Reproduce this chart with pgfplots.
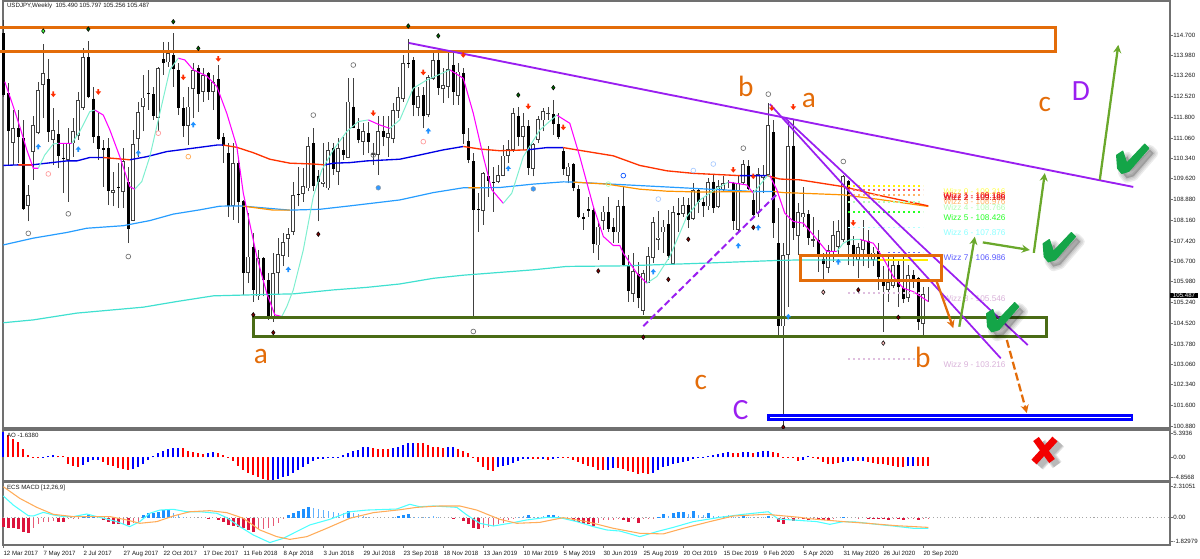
\documentclass[border=0pt]{standalone}
\PassOptionsToPackage{rgb}{xcolor}
\usepackage{fontspec}
\setmainfont{Liberation Sans}
\newfontfamily\letterfont{Carlito}
\usepackage{pgfplots}
\usepackage{pgfplotstable}
\pgfplotsset{compat=1.18}
\usetikzlibrary{arrows.meta}

% weekly candles: week index, open, high, low, close
\pgfplotstableread{
i o h l c
0 114.76 115.23 112.52 112.58
1 112.64 112.99 110.11 111.29
3 111.40 112.05 110.17 111.09
4 111.07 111.70 108.52 108.55
9 113.15 113.84 110.93 111.26
11 111.20 111.70 109.99 110.43
12 110.37 110.87 109.11 110.32
17 113.91 114.50 112.46 112.52
18 112.45 112.88 110.87 111.11
19 111.13 111.93 110.29 110.67
20 110.70 110.99 109.34 110.65
21 110.72 111.05 108.69 109.17
23 109.34 110.17 108.58 109.31
25 109.50 110.05 107.34 107.83
29 112.65 113.47 112.05 112.63
30 112.61 112.88 111.70 111.85
32 113.85 114.47 113.29 113.70
34 114.00 114.76 112.88 113.50
35 113.47 113.70 111.88 112.13
36 112.11 112.52 111.09 111.49
39 113.52 113.64 111.99 112.61
41 113.35 113.41 112.41 112.68
43 113.15 113.64 110.99 111.03
44 111.09 111.23 110.17 110.79
45 110.52 110.87 108.28 108.64
47 110.17 110.29 108.05 108.81
48 108.84 108.87 105.51 106.28
50 107.20 107.69 105.28 105.69
52 106.81 106.87 105.46 106.04
53 106.04 106.28 104.63 104.65
59 109.07 110.05 108.64 109.04
62 110.87 111.40 109.17 109.38
63 109.73 109.93 108.11 109.50
66 110.70 110.87 109.76 109.97
68 110.64 111.11 110.29 110.46
70 112.17 113.17 111.40 111.43
71 111.38 111.76 110.87 110.99
73 111.23 111.64 110.52 110.91
76 111.32 111.82 110.76 111.11
81 113.72 114.55 113.52 113.70
82 113.80 113.94 111.82 112.21
84 112.58 112.88 111.40 111.85
87 113.82 114.17 112.58 112.82
90 113.64 114.11 112.23 112.68
92 113.35 113.52 110.85 111.19
93 110.96 111.40 110.17 110.29
94 110.23 110.52 104.69 108.52
95 108.54 109.11 107.75 108.51
97 109.70 110.76 108.99 109.54
98 109.52 110.05 108.46 109.48
103 111.84 112.17 110.76 111.11
105 111.49 111.70 109.76 110.01
110 111.90 112.41 111.17 111.56
111 111.55 111.93 111.02 111.09
112 110.60 110.70 109.76 109.97
114 110.13 110.17 109.17 109.28
115 109.26 109.40 108.22 108.26
116 108.28 108.40 107.81 108.21
117 108.54 108.99 108.28 108.49
118 108.52 108.64 106.99 107.32
121 108.44 108.99 107.75 107.85
122 107.91 108.22 107.34 107.73
124 108.66 109.34 106.52 106.57
125 106.55 106.93 105.28 105.66
127 106.24 106.69 105.04 105.42
133 108.02 108.52 106.75 106.89
135 108.40 108.93 107.75 108.35
137 108.69 108.93 107.87 108.17
139 109.23 109.28 108.40 108.78
140 108.79 108.99 108.28 108.64
142 109.52 109.75 108.40 108.58
145 109.50 109.58 109.28 109.46
146 109.46 109.52 107.81 108.11
149 110.07 110.29 109.23 109.26
150 108.87 109.23 108.28 108.34
154 111.26 111.70 107.52 108.05
155 107.34 108.58 104.04 104.40
158 110.78 111.70 107.46 107.87
161 108.37 108.52 107.28 107.52
163 107.46 107.81 106.34 106.93
164 106.79 106.99 105.98 106.61
169 109.54 109.58 106.57 107.28
170 107.28 107.58 106.52 106.95
173 107.43 107.81 106.46 106.96
175 107.05 107.34 105.69 106.16
176 105.99 106.52 104.20 105.83
179 106.57 106.75 105.10 105.78
180 105.75 106.87 105.22 105.37
182 106.22 106.40 105.75 106.08
183 106.10 106.16 104.28 104.57
}\bear
\pgfplotstableread{
i o h l c
2 110.90 112.05 110.11 111.40
5 108.67 109.40 108.11 109.05
6 110.58 111.82 109.58 111.52
7 111.25 113.05 111.19 112.76
8 112.94 114.37 111.76 113.35
10 110.99 112.11 110.11 111.35
13 110.29 111.40 108.81 110.87
14 110.87 111.76 110.40 111.31
15 111.13 112.70 110.99 112.41
16 112.11 114.23 112.05 113.91
22 109.11 109.87 108.64 109.21
24 109.14 110.70 108.58 110.25
26 108.14 111.35 108.11 110.85
27 111.03 112.35 110.40 111.99
28 112.15 113.29 111.29 112.49
31 111.76 113.58 111.29 113.52
33 113.73 114.47 113.58 114.05
37 111.50 112.88 110.82 112.17
38 112.78 113.70 111.76 113.47
40 112.70 113.52 112.35 113.29
42 112.68 113.29 112.05 113.05
46 108.66 110.87 108.17 110.17
49 106.28 108.40 105.93 106.87
51 105.46 107.10 105.34 106.81
54 104.65 106.99 104.57 106.28
55 106.28 107.52 105.51 106.96
56 106.90 107.69 106.52 107.38
57 107.49 107.87 106.87 107.66
58 107.75 109.52 107.63 109.05
60 109.08 109.99 108.81 109.37
61 109.28 111.11 109.17 110.76
64 109.43 110.87 109.34 109.52
65 109.28 110.93 109.23 110.64
67 109.85 111.05 109.40 110.70
69 110.37 113.17 110.34 112.35
72 110.93 111.58 110.46 111.29
74 110.46 110.87 110.11 110.52
75 110.46 111.82 109.76 111.29
77 111.05 111.82 110.40 111.23
78 111.03 112.29 110.87 112.05
79 112.02 112.88 111.76 112.52
80 112.43 114.00 112.35 113.70
83 112.13 112.88 111.82 112.55
85 111.88 113.29 111.79 113.21
86 113.15 114.17 113.11 113.82
88 112.78 113.52 112.31 112.94
89 112.88 114.06 112.46 113.50
91 112.56 113.70 112.23 113.41
96 108.49 109.87 107.99 109.81
99 109.50 110.11 109.46 109.75
100 109.73 110.81 109.70 110.44
101 110.43 110.99 110.17 110.66
102 110.64 112.11 110.58 111.93
104 111.11 111.93 110.64 111.49
106 109.97 110.87 109.70 110.84
107 110.99 111.82 110.87 111.72
108 111.68 112.11 111.29 112.02
109 111.92 112.17 111.70 111.96
113 109.73 110.17 109.46 110.05
119 107.26 108.11 106.75 107.93
120 108.14 108.64 107.81 108.46
123 107.72 108.87 107.34 108.66
126 105.55 106.99 105.28 106.36
128 104.96 106.40 104.81 106.28
129 105.95 107.22 105.93 106.90
130 106.81 108.28 106.63 108.08
131 107.46 108.48 107.10 107.54
132 107.72 108.17 106.99 107.93
134 106.61 108.64 106.57 108.44
136 108.38 108.99 108.28 108.69
138 108.20 109.46 108.17 109.23
141 108.64 109.64 108.52 109.50
143 108.61 109.58 108.58 109.37
144 109.23 109.70 109.17 109.46
147 107.81 109.70 107.75 109.46
148 109.46 110.29 109.40 110.14
151 108.40 109.99 108.28 109.78
152 109.64 110.11 109.11 109.75
153 109.75 112.29 109.70 111.52
156 104.40 107.34 100.86 106.93
157 106.93 111.70 105.10 110.76
159 107.61 108.75 106.93 108.44
160 108.25 109.34 107.93 108.40
162 107.43 108.28 107.22 107.48
165 106.48 107.28 106.28 107.10
166 107.05 108.11 106.69 107.63
167 107.22 108.17 106.87 107.78
168 107.46 109.75 107.40 109.70
171 106.75 107.34 106.10 107.20
172 107.10 108.17 106.52 107.46
174 106.75 107.22 106.52 107.01
177 105.69 106.93 105.28 105.96
178 105.83 106.93 105.75 106.57
181 105.40 106.57 105.28 106.22
184 104.48 105.81 104.00 105.55
185 105.49 105.80 105.26 105.49
}\bull

\definecolor{annorange}{HTML}{E36C09}
\definecolor{annpurple}{HTML}{9A1FF0}
\definecolor{anngreen}{HTML}{4A6B16}
\definecolor{arrgreen}{HTML}{6AA82B}
\definecolor{chkgreen}{HTML}{14A548}
\definecolor{candle}{HTML}{404040}
\definecolor{frame}{HTML}{707070}
\definecolor{turq}{HTML}{40E0D0}
\definecolor{aquam}{HTML}{7FEFD0}
\definecolor{crims}{HTML}{DC143C}
\definecolor{dodger}{HTML}{1E90FF}

\pgfdeclareplotmark{dn}{\pgfpathmoveto{\pgfpoint{-.7pt}{2.2pt}}\pgfpathlineto{\pgfpoint{.7pt}{2.2pt}}\pgfpathlineto{\pgfpoint{.7pt}{.5pt}}\pgfpathlineto{\pgfpoint{2.1pt}{.5pt}}\pgfpathlineto{\pgfpoint{0pt}{-2pt}}\pgfpathlineto{\pgfpoint{-2.1pt}{.5pt}}\pgfpathlineto{\pgfpoint{-.7pt}{.5pt}}\pgfpathclose\pgfusepathqfill}
\pgfdeclareplotmark{up}{\pgfpathmoveto{\pgfpoint{-.7pt}{-2.2pt}}\pgfpathlineto{\pgfpoint{.7pt}{-2.2pt}}\pgfpathlineto{\pgfpoint{.7pt}{-.5pt}}\pgfpathlineto{\pgfpoint{2.1pt}{-.5pt}}\pgfpathlineto{\pgfpoint{0pt}{2pt}}\pgfpathlineto{\pgfpoint{-2.1pt}{-.5pt}}\pgfpathlineto{\pgfpoint{-.7pt}{-.5pt}}\pgfpathclose\pgfusepathqfill}

\pgfplotsset{
  panel/.style={
    scale only axis, width=875.25pt, xmin=-0.06, xmax=233.34,
    anchor=south west, clip=false,
    axis line style={draw=frame,line width=.8pt},
    xtick=\empty, ytick pos=right, yticklabel pos=right,
    tick style={draw=frame,line width=.4pt}, major tick length=2pt,
    tick align=outside,
    tick label style={font=\fontsize{4.6}{5.5}\selectfont,text=black!90},
    y tick label style={anchor=west,inner xsep=.4pt},
  },
  wick/.style={draw=candle,line width=.55pt,quiver={u=0,v=\thisrow{h}-\thisrow{l}}},
  body/.style={draw=black,line width=2.7pt,quiver={u=0,v=\thisrow{c}-\thisrow{o}}},
  wizline/.style={line width=1.1pt,dash pattern=on 1.1pt off 2.65pt},
}
\tikzset{
  lab/.style={font=\fontsize{4.6}{5.5}\selectfont,text=black!90,anchor=west,inner sep=0pt},
  wiz/.style={font=\fontsize{6.2}{7}\selectfont,anchor=west,inner sep=0pt},
  big/.style={font=\letterfont\fontsize{22}{24}\selectfont,inner sep=0pt},
}

\newcommand{\chk}[2]{%
  \begin{scope}[shift={(#1,#2)}]
    \foreach \w in {9,6,3}{
      \path[fill=black,draw=black,opacity=.08,line join=round,line width=\w*.75pt,shift={(5,5)}]
        (0,12)--(6,8)--(10,20)--(28,1)--(32,5)--(12,28)--(5,30)--(1,25)--cycle;}
    \path[fill=chkgreen,draw=chkgreen,line join=round,line width=1pt]
      (0,12)--(6,8)--(10,20)--(28,1)--(32,5)--(12,28)--(5,30)--(1,25)--cycle;
  \end{scope}}

\begin{document}
\begin{tikzpicture}
\useasboundingbox (0,0) rectangle (900pt,419.25pt);

% price panel
\begin{axis}[panel, at={(2.25pt,98.25pt)}, height=320.25pt, ymin=100.809, ymax=115.903,
  ytick={114.7,113.98,113.26,112.52,111.8,111.06,110.34,109.62,108.88,108.16,107.42,106.7,105.98,105.24,104.52,103.78,103.06,102.34,101.6,100.88},
  yticklabels={114.700,113.980,113.260,112.520,111.800,111.060,110.340,109.620,108.880,108.160,107.420,106.700,105.980,105.240,104.520,103.780,103.060,102.340,101.600,100.880}]

\addplot[wick] table[x=i,y=l] {\bear};
\addplot[wick] table[x=i,y=l] {\bull};
\addplot[body] table[x=i,y=o] {\bear};
\addplot[body,draw=candle,line width=3pt] table[x=i,y=o] {\bull};
\addplot[draw=white,line width=1.5pt,quiver={u=0,v={max(\thisrow{c}-\thisrow{o}-0.06,0)}}] table[x=i,y expr=\thisrow{o}+0.03] {\bull};

% moving averages, coloured by direction
\pgfplotsset{unbounded coords=jump}
\addplot[draw=cyan!55!blue!85!white,line width=.9pt] coordinates {(0,107.28)(6,107.52)(12.7,107.72)(16.7,107.87)(24,107.96)(29.3,108.14)(34,108.37)(39.3,108.52)(43.3,108.65)(47.3,108.66)(48.7,108.64)(57.3,108.51)(63.3,108.54)(69.3,108.66)(79.3,108.87)(86,109.13)(92,109.30)(95.3,109.30)(99.3,109.31)(106,109.43)(112,109.51)(114,109.50)(150,109.17)(154,109.17)};
\addplot[draw=orange!85!yellow,line width=.9pt] coordinates {(47.3,nan)(48,108.65)(54,108.51)(57.3,108.51)(57.4,nan)(93,109.30)(95.3,109.30)(95.4,nan)(114,109.50)(120.7,109.43)(127.3,109.25)(132.7,109.18)(139.3,109.15)(146,109.16)(150,109.16)(150.1,nan)(154,109.17)(156,109.13)(159.3,109.11)(168,109.05)(174.7,108.90)(185,108.64)};
\addplot[draw=blue!90!black,line width=1pt] coordinates {(0,110.09)(3,110.11)(5.7,110.11)(12.7,110.25)(14.7,110.25)(17.3,110.37)(20,110.37)(20.1,nan)(25.3,110.29)(28.7,110.40)(32.7,110.58)(39.3,110.73)(42.7,110.81)(44,110.81)(44.1,nan)(64.3,110.11)(66,110.17)(69.3,110.19)(72.7,110.25)(79.3,110.31)(83.3,110.46)(88,110.64)(92,110.76)(92.1,nan)(104.7,110.64)(108.7,110.72)(112,110.72)(112.1,nan)(147.3,109.73)(152.7,109.73)};
\addplot[draw=red!60!orange,line width=1pt] coordinates {(3,110.11)(5.7,110.11)(5.8,nan)(20,110.37)(25.3,110.29)(25.4,nan)(44,110.81)(46.7,110.73)(50,110.54)(53.3,110.31)(57.3,110.17)(62,110.14)(64.3,110.11)(64.4,nan)(92,110.76)(95.3,110.67)(99.3,110.61)(104.7,110.64)(104.8,nan)(112,110.72)(114.7,110.64)(122,110.43)(127.3,110.09)(132.7,109.90)(138,109.81)(147.3,109.73)(147.4,nan)(152.7,109.73)(155.3,109.61)(159.3,109.58)(168,109.34)(174.7,109.05)(185,108.66)};
\addplot[draw=turq,line width=.9pt] coordinates {(0,104.53)(6,104.63)(14.7,104.87)(28,105.08)(34.7,105.28)(42,105.48)(52.7,105.53)(58,105.55)(66,105.69)(72.7,105.78)(79.3,105.90)(86,106.10)(92,106.21)(106,106.40)(112.7,106.52)(124,106.54)(139.3,106.63)(154.7,106.73)(159.3,106.75)(175,106.75)};
\addplot[draw=yellow!85!orange,line width=.9pt] coordinates {(175,106.75)(185,106.75)};

% swing line: magenta falling, aquamarine rising
\addplot[draw=magenta,line width=.8pt] coordinates {(0.3,113.05)(2,112.17)(3.3,111.46)(4.7,110.64)(6,109.99)(7,109.99)(7.1,nan)(11,110.87)(13.7,110.87)(13.8,nan)(18.3,112.05)(20,111.87)(21.3,111.35)(23.3,110.40)(25.3,109.34)(26.3,109.25)(26.4,nan)(35,113.88)(36.3,113.82)(38,113.47)(40.7,113.25)(42.7,112.88)(44.7,111.93)(46.7,110.76)(48,109.11)(50.7,106.87)(52.7,105.57)(54.3,104.81)(55.7,104.75)(55.8,nan)(73,111.70)(75.3,111.52)(77.3,111.40)(77.4,nan)(89.3,113.47)(92,113.17)(94,111.93)(96,110.40)(97.7,109.23)(100,108.75)(100.1,nan)(110.7,111.87)(113.3,111.58)(115.3,110.40)(118,108.64)(120,107.58)(122,107.26)(123.3,107.26)(124,106.99)(126.7,106.28)(128.7,105.93)(128.8,nan)(145,109.50)(148.7,109.40)(150,109.11)(150.1,nan)(153.3,109.73)(154.7,109.23)(156.3,108.40)(158,108.11)(160,108.05)(162,107.63)(164.7,107.05)(166.7,107.05)(166.8,nan)(171.3,107.48)(174,107.34)(176,106.81)(178,106.16)(180,105.75)(182,105.63)(185,105.28)};
\addplot[draw=aquam,line width=.75pt] coordinates {(7,109.99)(8.3,110.46)(10,110.85)(11,110.87)(11.1,nan)(13.7,110.87)(15.3,111.29)(17.3,111.99)(18.3,112.05)(18.4,nan)(26.3,109.25)(27.7,109.52)(29.3,110.40)(31.3,111.93)(33.3,113.47)(35,113.88)(35.1,nan)(55.7,104.75)(56.7,105.10)(58,105.69)(60,107.10)(62,108.99)(63.7,109.93)(66,110.64)(68.7,111.29)(71,111.64)(73,111.70)(73.1,nan)(77.3,111.40)(79.3,111.70)(82,112.82)(84.7,113.11)(89.3,113.47)(89.4,nan)(100,108.75)(101.7,109.11)(104,110.40)(107.3,111.34)(110.7,111.87)(110.8,nan)(128.7,105.93)(130.7,106.16)(133.3,106.87)(136.7,108.28)(139.3,108.87)(142.3,109.23)(145,109.50)(145.1,nan)(150,109.11)(152.7,109.70)(153.3,109.73)(153.4,nan)(166.7,107.05)(168,107.34)(169.3,107.46)(171.3,107.48)};

% signal markers
\addplot[only marks,mark=o,mark size=1.8pt,mark options={draw=black!55,line width=.5pt}] coordinates {(5,107.69)(13,108.38)(25,106.87)(62,111.87)(70,113.64)(94,104.22)(153,112.61)(148,110.70)(168,110.23)(74,110.46)};
\addplot[only marks,mark=o,mark size=1.8pt,mark options={draw=pink!80!red,line width=.5pt}] coordinates {(9,109.79)(31,111.23)(84,110.93)};
\addplot[only marks,mark=o,mark size=1.8pt,mark options={draw=orange!70,line width=.5pt}] coordinates {(37,110.40)};
\addplot[only marks,mark=o,mark size=1.8pt,mark options={draw=blue!70!cyan,line width=.5pt}] coordinates {(124,109.73)};
\addplot[only marks,mark=o,mark size=1.8pt,mark options={draw=cyan!40!blue!35,line width=.5pt}] coordinates {(131,108.90)(138,109.91)(142,110.14)};
\addplot[only marks,mark=o,mark size=1.8pt,mark options={draw=green!30,line width=.5pt}] coordinates {(121,109.43)};
\addplot[only marks,mark=*,mark size=1.8pt,mark options={fill=blue!50!cyan!80,draw=black!40,line width=.3pt}] coordinates {(75,109.30)(106,109.26)};
\addplot[only marks,mark=dn,mark options={fill=red!65!orange,draw=none}] coordinates {(10,112.60)(19,112.68)(36,113.20)(43,113.85)(74,111.93)(84,113.37)(92,113.99)(105,112.17)(112,111.43)(146,109.93)(150,109.70)(153.7,112.11)(158,112.15)(170,108.05)};
\addplot[only marks,mark=up,mark options={fill=dodger,draw=none}] coordinates {(7,110.76)(15,110.67)(27,110.54)(38,111.54)(57,106.42)(85,111.32)(101,109.99)(130,106.34)(147,107.26)(151,107.90)(157,104.75)(167,106.69)};
\addplot[only marks,mark=diamond*,mark size=1.7pt,mark options={fill=green!40!black,draw=none}] coordinates {(17,114.91)(34,115.17)(39,114.23)(81,115.02)(87,114.67)(103,112.58)(110,112.84)};
\addplot[only marks,mark=diamond*,mark size=1.7pt,mark options={fill=green!75!white,draw=none}] coordinates {(8,114.84)};
\addplot[only marks,mark=diamond*,mark size=1.7pt,mark options={fill=red!50!black,draw=none}] coordinates {(50,104.81)(54,104.18)(63,107.66)(119,106.36)(128,104.02)(133,106.06)(137,107.48)(150,107.90)(156,100.84)(171,105.69)(179,104.72)};
\addplot[only marks,mark=diamond*,mark size=1.7pt,mark options={fill=pink,draw=none}] coordinates {(164,105.61)(176,103.81)};

% wizz levels
\addplot[draw=yellow!90!orange,wizline] coordinates {(169,109.36)(184,109.36)};
\addplot[draw=red!60!white,wizline] coordinates {(169,109.22)(184,109.22)};
\addplot[draw=orange!60,wizline] coordinates {(169,109.05)(184,109.05)};
\addplot[draw=green!30,wizline] coordinates {(169,108.79)(184,108.79)};
\addplot[draw=green!85!white,wizline] coordinates {(169,108.44)(184,108.44)};
\addplot[draw=cyan!30,wizline] coordinates {(169,107.90)(184,107.90)};
\addplot[draw=blue!60!white,wizline] coordinates {(177,107.02)(184,107.02)};
\addplot[draw=violet!25,wizline] coordinates {(169,105.58)(184,105.58)};
\addplot[draw=violet!25,wizline] coordinates {(169,103.24)(184,103.24)};
\node[wiz,text=yellow!70!white] at (axis cs:188,109.17) {Wizz 0 - 109.316};
\node[wiz,text=orange!60] at (axis cs:188,108.81) {Wizz 3 - 108.976};
\node[wiz,text=red] at (axis cs:188,109.01) {Wizz 1 - 109.186};
\node[wiz,text=red!85!black] at (axis cs:188,108.97) {Wizz 2 - 109.186};
\node[wiz,text=green!30] at (axis cs:188,108.61) {Wizz 4 - 108.766};
\node[wiz,text=green!85!white] at (axis cs:188,108.26) {Wizz 5 - 108.426};
\node[wiz,text=cyan!45] at (axis cs:188,107.72) {Wizz 6 - 107.876};
\node[wiz,text=blue!65!white] at (axis cs:188,106.82) {Wizz 7 - 106.986};
\node[wiz,text=violet!30] at (axis cs:188,105.40) {Wizz 8 - 105.546};
\node[wiz,text=violet!30] at (axis cs:188,103.06) {Wizz 9 - 103.216};

% drawn zones and trend lines
\addplot[draw=annorange,line width=2.25pt] coordinates {(-0.66,114.98)(210.5,114.98)(210.5,114.125)(-0.66,114.125)};
\addplot[draw=anngreen,line width=2.25pt] coordinates {(50.1,104.73)(208.7,104.73)(208.7,104.04)(50.1,104.04)} --cycle;
\addplot[draw=annpurple,line width=1.4pt] coordinates {(81.1,114.42)(226,109.33)};
\addplot[draw=annpurple,line width=1.3pt] coordinates {(153.3,112.26)(199.5,103.27)};
\addplot[draw=annpurple,line width=1.3pt] coordinates {(156.3,111.77)(204.9,103.74)};
\addplot[draw=annpurple,line width=1.5pt,dash pattern=on 5pt off 2.5pt] coordinates {(128,104.41)(155,109.12)};
\addplot[draw=annorange,line width=2.25pt] coordinates {(159.5,106.92)(187.7,106.92)(187.7,106.04)(159.5,106.04)} --cycle;
\addplot[draw=blue,fill=white,line width=1.95pt] coordinates {(153,101.25)(225.7,101.25)(225.7,101.11)(153,101.11)} --cycle;
\addplot[draw=annorange,line width=1.7pt,-{Stealth[length=6pt,width=6pt]}] coordinates {(186.7,105.98)(190,104.34)};
\addplot[draw=annorange,line width=1.7pt,dash pattern=on 6pt off 2.5pt,-{Stealth[length=6pt,width=6pt]}] coordinates {(200.7,103.92)(204.7,101.34)};
\addplot[draw=arrgreen,line width=1.7pt,-{Stealth[length=6pt,width=6pt]}] coordinates {(191.2,104.39)(194.3,107.57)};
\addplot[draw=arrgreen,line width=1.7pt,-{Stealth[length=6pt,width=6pt]}] coordinates {(195.9,107.37)(205.3,107.10)};
\addplot[draw=arrgreen,line width=1.7pt,-{Stealth[length=6pt,width=6pt]}] coordinates {(206.1,107.00)(208.3,109.82)};
\addplot[draw=arrgreen,line width=1.7pt,-{Stealth[length=6pt,width=6pt]}] coordinates {(219.3,109.58)(223,114.35)};

\node[big,text=annorange] at (axis cs:148.5,112.90) {b};
\node[big,text=annorange] at (axis cs:161.1,112.37) {a};
\node[big,text=annorange] at (axis cs:51.5,103.32) {a};
\node[big,text=annorange] at (axis cs:183.9,103.32) {b};
\node[big,text=annorange] at (axis cs:139.5,102.40) {c};
\node[big,text=annpurple] at (axis cs:147.5,101.45) {C};
\node[big,text=annorange] at (axis cs:208.3,112.26) {c};
\node[big,text=annpurple] at (axis cs:215.5,112.72) {D};
\node[lab] at (axis cs:0.7,115.74) {USDJPY,Weekly\ \ 105.490 105.797 105.256 105.487};
\node[anchor=west,fill=black,text=white,inner xsep=2pt,inner ysep=.5pt,font=\fontsize{4.6}{5.5}\selectfont] at (axis cs:233.34,105.487) {105.487};
\end{axis}

% awesome oscillator
\begin{axis}[panel, at={(2.25pt,58.5pt)}, height=38.25pt, ymin=-4.7, ymax=5.5,
  ytick={4.84,0,-3.96}, yticklabels={5.3936,0.00,-4.8568}]
\addplot[ycomb,draw=red,line width=1.5pt] coordinates {(1,4.53)(2,3.67)(3,3)(4,1.67)(5,.53)(6,.07)(7,.07)(11,.33)(12,.2)(13,-1.33)(14,-1.8)(15,-1.87)(20,-.87)(21,-1.47)(22,-1.8)(23,-2.13)(24,-2.4)(25,-2.47)(36,1.8)(37,1.33)(38,1.07)(39,.8)(40,.67)(43,.93)(44,.53)(45,.07)(46,-.67)(47,-1.67)(48,-2.47)(49,-3.13)(50,-3.47)(51,-4)(52,-4.4)(53,-4.53)(74,1.93)(75,1.73)(76,1.67)(77,1.67)(83,2.93)(84,2.8)(85,2.53)(86,2.13)(87,2)(88,1.93)(91,1.67)(92,1.33)(93,.93)(94,-.13)(95,-1)(96,-1.87)(97,-2.53)(98,-2.8)(106,-.4)(107,-.4)(109,-.47)(112,-.07)(113,-.2)(114,-.53)(115,-1)(116,-1.33)(117,-1.8)(118,-2)(119,-2.53)(120,-2.53)(123,-2.2)(124,-2.33)(125,-2.67)(126,-3)(127,-3.33)(128,-3.2)(129,-3.33)(146,.93)(147,.93)(150,.87)(154,1.13)(155,.8)(156,.13)(157,-.2)(158,-.2)(159,-.8)(162,.07)(163,-.27)(164,-1)(165,-1.33)(166,-1.33)(167,-1.2)(171,-.8)(173,-1)(174,-1.2)(175,-1.33)(176,-1.33)(177,-1.6)(178,-1.73)(179,-1.87)(180,-1.87)(183,-1.8)(184,-1.8)(185,-1.64)};
\addplot[ycomb,draw=blue,line width=1.5pt] coordinates {(0,5)(8,.13)(9,.27)(10,.4)(16,-1.6)(17,-1)(18,-.53)(19,-.47)(26,-2.33)(27,-2)(28,-1.33)(29,-.47)(30,.33)(31,.87)(32,1.33)(33,1.73)(34,1.87)(35,1.93)(41,.87)(42,1)(54,-4.53)(55,-4.33)(56,-4)(57,-3.67)(58,-3.2)(59,-2.53)(60,-2)(61,-1.33)(62,-.67)(63,-.4)(64,-.33)(65,-.2)(66,-.13)(67,.13)(68,.47)(69,.87)(70,1.33)(71,1.47)(72,2)(73,2.13)(78,1.8)(79,2.13)(80,2.47)(81,2.87)(82,2.93)(89,2)(90,2)(99,-2)(100,-1.8)(101,-1.47)(102,-1.13)(103,-.67)(104,-.33)(105,-.33)(108,-.4)(110,-.27)(111,-.13)(121,-2.47)(122,-2.2)(130,-3.13)(131,-2.53)(132,-2)(133,-1.73)(134,-1.33)(135,-1.2)(136,-.93)(137,-.8)(138,-.27)(139,.07)(140,.13)(141,.27)(142,.4)(143,.6)(144,.8)(145,1.07)(148,1)(149,1.07)(151,1)(152,1.2)(153,1.27)(160,-.53)(161,.2)(168,-1)(169,-.8)(170,-.67)(172,-.8)(181,-1.67)(182,-1.67)};
\node[lab] at (axis cs:0.7,4.5) {AO -1.6380};
\end{axis}

% macd
\begin{axis}[panel, at={(2.25pt,10.5pt)}, height=47.25pt, ymin=-1.8, ymax=2.35,
  xtick={0,8,...,184},
  xticklabels={12 Mar 2017,7 May 2017,2 Jul 2017,27 Aug 2017,22 Oct 2017,17 Dec 2017,11 Feb 2018,8 Apr 2018,3 Jun 2018,29 Jul 2018,23 Sep 2018,18 Nov 2018,13 Jan 2019,10 Mar 2019,5 May 2019,30 Jun 2019,25 Aug 2019,20 Oct 2019,15 Dec 2019,9 Feb 2020,5 Apr 2020,31 May 2020,26 Jul 2020,20 Sep 2020},
  x tick label style={anchor=north west,inner xsep=0pt,yshift=1pt},
  xtick pos=bottom,
  ytick={2.04,0,-1.53}, yticklabels={2.31051,0.00,-1.82979}]
\addplot[draw=gray!70,dash pattern=on .8pt off 2pt,line width=.7pt] coordinates {(0,0)(233.34,0)};
\addplot[ycomb,draw=crims,line width=2.4pt] coordinates {(0,-.61)(1,-.66)(2,-.70)(3,-.77)(4,-.92)(5,-1.03)(11,-.26)(12,-.26)(20,-.18)(21,-.31)(22,-.39)(23,-.44)(25,-.50)(41,-.04)(43,-.18)(44,-.26)(45,-.48)(46,-.55)(47,-.59)(48,-.70)(49,-.81)(50,-.92)(90,-.11)(92,-.22)(93,-.39)(94,-.66)(95,-.77)(114,-.22)(115,-.28)(116,-.39)(117,-.44)(118,-.53)(124,-.18)(125,-.28)(127,-.33)(155,-.31)(156,-.44)(158,-.22)(160,-.07)(161,-.15)(163,-.18)(164,-.18)(165,-.22)(173,-.07)(174,-.07)(175,-.07)(176,-.11)(177,-.18)(179,-.07)(180,-.15)(183,-.13)};
\addplot[ycomb,draw=crims!70!white,line width=.5pt] coordinates {(6,-.66)(7,-.44)(8,-.26)(9,-.26)(10,-.22)(13,-.11)(14,-.11)(15,-.07)(24,-.39)(26,-.33)(27,-.26)(51,-.77)(52,-.77)(53,-.66)(54,-.55)(55,-.33)(56,-.11)(96,-.66)(97,-.61)(98,-.55)(99,-.44)(100,-.33)(101,-.18)(102,-.07)(119,-.33)(120,-.18)(121,-.18)(122,-.18)(123,-.09)(126,-.11)(128,-.11)(129,-.09)(130,-.04)(157,-.04)(159,-.11)(162,-.09)(166,-.04)(171,-.02)(178,-.04)(181,-.04)(182,-.02)(184,-.04)(185,-.02)};
\addplot[ycomb,draw=dodger,line width=2.4pt] coordinates {(16,.11)(17,.15)(18,.11)(28,.18)(29,.28)(30,.31)(31,.39)(32,.50)(33,.50)(57,.18)(58,.31)(59,.44)(60,.55)(61,.70)(69,.44)(79,.11)(80,.18)(81,.26)(105,.18)(109,.15)(110,.18)(131,.04)(132,.22)(134,.31)(135,.35)(136,.39)(138,.42)(141,.31)(148,.13)(153,.11)(168,.07)};
\addplot[ycomb,draw=dodger!70!white,line width=.5pt] coordinates {(34,.33)(35,.26)(36,.07)(62,.61)(63,.55)(64,.50)(65,.44)(66,.37)(67,.33)(68,.33)(70,.33)(71,.26)(72,.11)(73,.04)(78,.04)(82,.07)(83,.04)(84,.04)(85,.07)(86,.09)(87,.04)(103,.07)(104,.09)(106,.04)(107,.04)(108,.09)(111,.11)(112,.04)(133,.09)(137,.26)(139,.18)(140,.15)(142,.11)(143,.09)(144,.13)(145,.18)(146,.07)(147,.04)(149,.07)(150,.04)(152,.02)};
\addplot[draw=cyan!70!white,line width=.8pt] coordinates {(0,1.43)(2,.83)(5,.13)(6,.11)(8,.35)(10,.18)(12,.07)(14,.07)(16.7,.24)(19.3,.02)(22.7,-.26)(25.3,-.59)(27.3,-.26)(29.3,.29)(31.3,.50)(34,.55)(36.7,.39)(39.3,.39)(42.7,.29)(44.7,0)(47.3,-.59)(50,-1.14)(53.3,-1.64)(56,-1.36)(59.3,-.81)(61.3,-.48)(65.3,-.11)(69.3,.39)(72.7,.50)(78.7,.57)(81.3,.88)(83.3,.72)(86,.77)(90.7,.68)(92.7,.18)(95.3,-.37)(98,-.55)(101.3,-.37)(104.7,-.15)(108.7,.02)(111.3,0)(114.7,-.26)(118,-.59)(120.7,-.81)(123.3,-.88)(127.3,-1.25)(130.7,-.92)(134,-.64)(138,-.26)(143.3,.02)(148,.22)(153,.39)(155,-.09)(160,-.20)(162.7,-.26)(165.3,-.44)(168,-.26)(170.7,-.29)(174.7,-.44)(178,-.55)(182,-.70)(185,-.70)};
\addplot[draw=orange!65!white,line width=.8pt] coordinates {(0,2.04)(3.3,1.27)(6.7,.68)(10,.22)(14,.07)(16.7,.07)(21.3,.07)(24.7,-.15)(27.3,-.37)(30.7,-.26)(34,.11)(37.3,.39)(41.3,.46)(44.7,.33)(48,-.04)(51.3,-.81)(54.7,-1.25)(57.3,-1.43)(60.7,-1.25)(64.7,-.70)(69.3,-.04)(74,.33)(79.3,.52)(82.7,.68)(87.3,.77)(91.3,.77)(94.7,.50)(99.3,-.11)(102.7,-.37)(107.3,-.31)(112,0)(116.7,-.26)(122,-.70)(127.3,-1.03)(132,-1.07)(136,-.70)(141.3,-.26)(146,.11)(152.7,.22)(159.3,.02)(161.3,-.07)(168,-.26)(172.7,-.37)(178.7,-.53)(185,-.64)};
\node[lab] at (axis cs:0.7,1.93) {ECS MACD [12,26,9]};
\end{axis}

% hand drawn ticks and cross, pixel positions
\begin{scope}[x=.75pt,y=-.75pt,yshift=419.25pt]
  \chk{986.7}{301.7}
  \chk{1043.3}{231.7}
  \chk{1116.7}{143.3}
  \foreach \w in {11,9,7}{
    \draw[black,opacity=.1,line width=\w*.75pt,shift={(5,4)}] (1036,439)--(1052,461) (1055,439)--(1034,462);}
  \draw[red!95!black,line width=5.2pt] (1036,439)--(1052,461) (1055,439)--(1034,462);
\end{scope}
\end{tikzpicture}
\end{document}
